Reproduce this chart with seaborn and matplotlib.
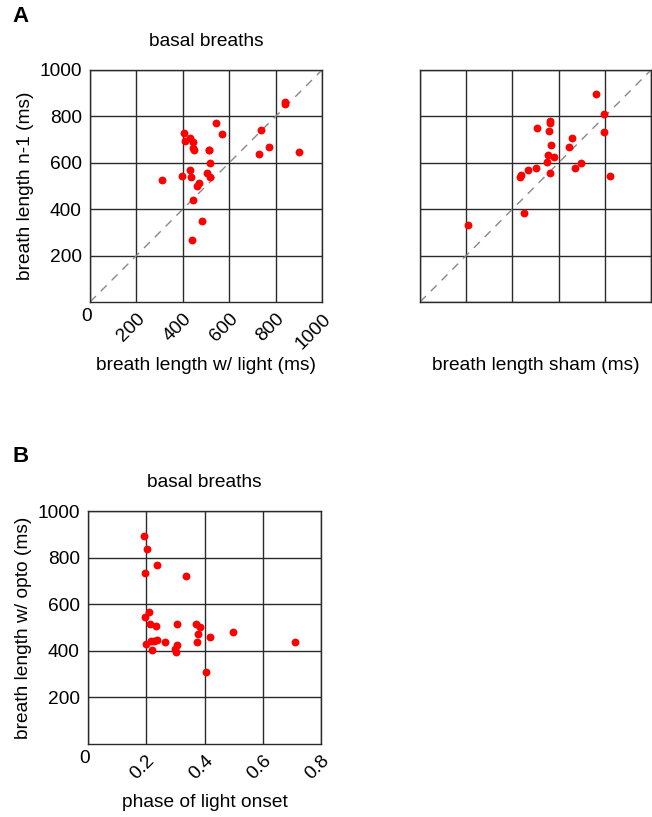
import numpy as np
import pandas as pd
import matplotlib
matplotlib.use("Agg")
import matplotlib.pyplot as plt
import seaborn as sns

# Panel A left: breath length with light vs previous breath (ms)
light_x = [840, 840, 544, 570, 738, 773, 728, 899, 407, 431, 444, 409, 444, 447,
           515, 514, 518, 429, 397, 437, 505, 518, 309, 471, 463, 444, 483, 440]
light_y = [860, 852, 773, 725, 742, 670, 639, 646, 729, 709, 689, 695, 662, 655,
           657, 654, 600, 567, 544, 537, 555, 537, 528, 512, 499, 439, 347, 269]

# Panel A right: sham breath length vs previous breath (ms)
sham_x = [762, 795, 798, 564, 564, 506, 557, 658, 643, 567, 555, 578, 548, 697,
          673, 823, 564, 504, 467, 438, 434, 451, 209]
sham_y = [897, 810, 732, 780, 770, 750, 739, 706, 669, 675, 635, 625, 602, 600,
          577, 545, 555, 579, 570, 548, 537, 382, 333]

# Panel B: phase of light onset vs breath length with opto (ms)
phase = [0.193, 0.201, 0.238, 0.194, 0.338, 0.208, 0.197, 0.214, 0.234, 0.306,
         0.371, 0.383, 0.376, 0.418, 0.497, 0.711, 0.373, 0.199, 0.215, 0.227,
         0.238, 0.265, 0.304, 0.298, 0.303, 0.219, 0.406]
opto_len = [894, 836, 769, 733, 723, 567, 543, 514, 507, 513,
            516, 503, 470, 461, 481, 436, 436, 430, 440, 440,
            446, 439, 427, 409, 396, 403, 309]

ms_ticks = [0, 200, 400, 600, 800, 1000]
ms_labels = ["", "200", "400", "600", "800", "1000"]
phase_ticks = [0, 0.2, 0.4, 0.6, 0.8]
phase_labels = ["", "0.2", "0.4", "0.6", "0.8"]

sns.set_theme(style="white")
plt.rcParams["font.family"] = ["Liberation Sans", "DejaVu Sans"]
plt.rcParams["text.color"] = "black"
plt.rcParams["axes.labelcolor"] = "black"
plt.rcParams["xtick.color"] = "black"
plt.rcParams["ytick.color"] = "black"

W, H = 652, 817
fig = plt.figure(figsize=(W / 100, H / 100), dpi=100)

def ax_at(l, t, r, b):
    return fig.add_axes([l / W, 1 - b / H, (r - l) / W, (b - t) / H])

axA1 = ax_at(90, 70, 322, 302)
axA2 = ax_at(420, 70, 651, 302)
axB = ax_at(88, 511, 321, 744)

grid_kw = dict(color="#2a2a2a", linewidth=1.0)
red = "#ff0000"
fs = 13.8

def style(ax, xticks, xlabels, yticks, ylabels, xlim, ylim):
    ax.set_xlim(*xlim)
    ax.set_ylim(*ylim)
    ax.set_xticks(xticks)
    ax.set_yticks(yticks)
    ax.set_xticklabels(xlabels, rotation=45, ha="right", va="top",
                       rotation_mode="anchor", fontsize=fs)
    ax.set_yticklabels(ylabels, fontsize=fs)
    ax.tick_params(length=0, pad=6)
    ax.grid(True, **grid_kw)
    ax.set_axisbelow(True)
    for sp in ax.spines.values():
        sp.set_color("#2a2a2a")
        sp.set_linewidth(1.0)

def xlabel_at(ax, text, top_px, ax_bottom, ax_h):
    ax.set_xlabel(text, fontsize=fs)
    ax.xaxis.set_label_coords(0.5, -(top_px - ax_bottom) / ax_h)

# Panel A left
df1 = pd.DataFrame({"x": light_x, "y": light_y})
axA1.plot([0, 1000], [0, 1000], ls=(0, (6, 5)), color="#888888", lw=1, zorder=1)
sns.scatterplot(data=df1, x="x", y="y", ax=axA1, color=red, s=32, linewidth=0, zorder=3)
style(axA1, ms_ticks, ms_labels, ms_ticks[1:], ms_labels[1:], (0, 1000), (0, 1000))
xlabel_at(axA1, "breath length w/ light (ms)", 357, 302, 232)
axA1.set_ylabel("breath length n-1 (ms)", fontsize=fs, labelpad=4)
axA1.set_title("basal breaths", fontsize=fs, pad=17)
axA1.text(-3 / 232, -6 / 232, "0", transform=axA1.transAxes, ha="center", va="top", fontsize=fs)

# Panel A right
df2 = pd.DataFrame({"x": sham_x, "y": sham_y})
axA2.plot([0, 1000], [0, 1000], ls=(0, (6, 5)), color="#888888", lw=1, zorder=1)
sns.scatterplot(data=df2, x="x", y="y", ax=axA2, color=red, s=32, linewidth=0, zorder=3)
style(axA2, ms_ticks, [""] * 6, ms_ticks, [""] * 6, (0, 1000), (0, 1000))
xlabel_at(axA2, "breath length sham (ms)", 357, 302, 232)
axA2.set_ylabel("")

# Panel B
df3 = pd.DataFrame({"x": phase, "y": opto_len})
sns.scatterplot(data=df3, x="x", y="y", ax=axB, color=red, s=32, linewidth=0, zorder=3)
style(axB, phase_ticks, phase_labels, ms_ticks[1:], ms_labels[1:], (0, 0.8), (0, 1000))
xlabel_at(axB, "phase of light onset", 794, 744, 233)
axB.set_ylabel("breath length w/ opto (ms)", fontsize=fs, labelpad=4)
axB.set_title("basal breaths", fontsize=fs, pad=17)
axB.text(-3 / 233, -6 / 233, "0", transform=axB.transAxes, ha="center", va="top", fontsize=fs)

fig.text(12 / W, 1 - 17 / H, "A", fontsize=16, fontweight="bold", ha="left", va="center")
fig.text(12 / W, 1 - 456 / H, "B", fontsize=16, fontweight="bold", ha="left", va="center")

fig.savefig("out.png", dpi=100)
